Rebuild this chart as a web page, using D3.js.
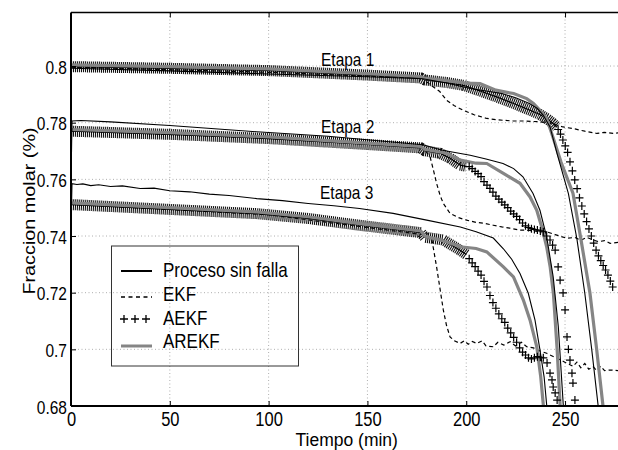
<!DOCTYPE html>
<html>
<head>
<meta charset="utf-8">
<script src="https://cdn.jsdelivr.net/npm/d3@7"></script>
<style>
  body { margin: 0; background: #fff; }
  text { font-family: "Liberation Sans", Arial, Helvetica, sans-serif; fill: #000; }
</style>
</head>
<body>
<div id="chart"></div>
<script>
// axis ticks
var xTicks = [0, 50, 100, 150, 200, 250];
var yTicks = [0.68, 0.7, 0.72, 0.74, 0.76, 0.78, 0.8];
var stageNames = ["Etapa 1", "Etapa 2", "Etapa 3"];
var legendNames = ["Proceso sin falla", "EKF", "AEKF", "AREKF"];

// Etapa 1 : [tiempo, fraccion molar]
var sinFalla1 = [[0,0.7995],[0.6,0.7992],[50,0.7983],[100,0.7972],[150,0.7962],[178,0.7955],[190,0.7940],[202,0.7921],[210,0.7912],[218,0.7903],[225,0.7888],[232,0.7868],[236,0.7850],[239,0.7826],[242.4,0.7785],[246,0.7690],[251.7,0.7550],[256,0.7390],[260,0.7198],[263.5,0.7000],[266.7,0.6804],[267.2,0.6750]];
var ekf1 = [[0,0.7996],[100,0.7978],[178,0.7957],[181,0.7938],[186.6,0.7910],[190.1,0.7879],[194,0.7860],[198.5,0.7844],[204,0.7828],[210.4,0.7815],[216,0.7810],[223.7,0.7806],[230,0.7806],[237.3,0.7803],[243,0.7797],[249,0.7785],[255,0.7778],[260,0.7770],[266.2,0.7762],[270,0.7766],[274.3,0.7762],[277,0.7764]];
var aekf1 = [[0,0.7998],[50,0.7992],[100,0.7984],[150,0.7968],[177,0.7958],[179,0.7951],[190,0.7942],[198.6,0.7932],[207,0.7912],[215.4,0.7891],[224,0.7868],[232.3,0.7844],[237,0.7830],[240.7,0.7815],[243.5,0.7800],[245.8,0.7785],
  [246.5,0.7776],[247.7,0.7760],[248.9,0.7739],[250.1,0.7718],[251.3,0.7695],[252.5,0.7662],[253.7,0.7630],[254.9,0.7598],[256.1,0.7567],[257.3,0.7535],[258.5,0.7506],[259.7,0.7478],[260.9,0.7451],[262.1,0.7425],[263.3,0.7400],[264.5,0.7375],[265.7,0.7350],[266.9,0.7330],[268.1,0.7313],[269.3,0.7296],[270.5,0.7280],[271.7,0.7262],[272.9,0.7241],[274.1,0.7220]];
var arekf1 = [[0,0.8004],[50,0.7998],[100,0.7990],[150,0.7973],[177,0.7963],[179,0.7957],[190,0.7948],[200,0.7940],[207,0.7938],[215,0.7915],[220,0.7908],[224,0.7903],[230.6,0.7885],[234,0.7868],[237.3,0.7844],[240.7,0.7815],[243.9,0.7749],[248,0.7660],[254,0.7551],[258,0.7390],[262.6,0.7199],[266,0.7000],[269.2,0.6800],[269.6,0.6750]];

// Etapa 2
var sinFalla2 = [[0,0.7585],[0.5,0.7806],[5,0.7808],[20,0.7803],[50,0.7790],[94,0.7768],[130,0.7752],[178,0.7722],[188,0.7703],[202,0.7685],[210,0.7672],[218.6,0.7656],[224,0.7638],[228.7,0.7609],[233.8,0.7550],[237.3,0.7491],[240.7,0.7397],[244,0.7256],[246.6,0.7080],[249.1,0.6804],[249.4,0.6750]];
var ekf2 = [[0,0.7772],[100,0.7745],[178,0.7712],[181.7,0.7680],[183.5,0.7630],[185,0.7586],[186.7,0.7545],[188.4,0.7515],[191.8,0.7480],[196,0.7465],[200.2,0.7456],[205,0.7448],[209,0.7445],[213.7,0.7438],[218,0.7432],[222,0.7428],[227.2,0.7421],[232,0.7420],[236,0.7416],[240.7,0.7415],[245,0.7405],[250.9,0.7392],[255,0.7395],[258,0.7385],[261,0.7395],[264.2,0.7386],[267,0.7380],[270,0.7384],[272.8,0.7374],[277,0.7378]];
var aekf2 = [[0,0.7770],[50,0.7759],[100,0.7744],[150,0.7723],[177,0.7711],[179,0.7701],[186.7,0.7692],[191.8,0.7675],[196.9,0.7650],[200,0.7646],
  [201.5,0.7645],[203,0.7638],[204.5,0.7628],[206,0.7620],[207.5,0.7610],[209,0.7592],[210.5,0.7580],[212,0.7568],[213.5,0.7555],[215,0.7541],[216.5,0.7530],[218,0.7520],[219.5,0.7510],[221,0.7500],[222.5,0.7488],[224,0.7478],[225.5,0.7469],[227,0.7458],[228.5,0.7446],[230,0.7436],[231.5,0.7430],[233,0.7426],[234.5,0.7423],[236,0.7421],[237.5,0.7418],[239,0.7415],
  [240.7,0.7400],[242.4,0.7386],[243.7,0.7368],[245,0.7350],[246.5,0.7291],[247.5,0.7244],[249,0.7199],[250,0.7139],[251,0.7044],[251.7,0.7000],[252.5,0.6962],[253.5,0.6916],[254,0.6881],[255,0.6821]];
var arekf2 = [[0,0.7776],[50,0.7765],[100,0.7750],[150,0.7728],[177,0.7716],[179,0.7706],[190,0.7692],[197,0.7668],[205,0.7657],[210.4,0.7656],[218.8,0.7621],[227.2,0.7586],[232.3,0.7538],[235.7,0.7491],[238.2,0.7432],[240.7,0.7362],[242.5,0.7290],[244.1,0.7198],[246,0.7000],[247.5,0.6804],[247.8,0.6750]];

// Etapa 3
var sinFalla3 = [[0,0.7425],[0.5,0.7585],[3,0.7582],[6,0.7584],[10,0.7578],[14,0.7581],[20,0.7575],[26,0.7577],[35,0.7568],[42,0.7569],[50,0.7560],[60,0.7556],[70,0.7548],[80,0.7543],[94,0.7532],[107,0.7525],[120,0.7515],[133,0.7507],[146,0.7497],[163,0.7480],[180,0.7456],[197,0.7432],[205,0.7415],[213.7,0.7393],[218.8,0.7355],[223,0.7318],[227.2,0.7268],[231.4,0.7198],[234.8,0.7103],[237.3,0.6998],[239.4,0.6903],[240.7,0.6804],[241,0.6750]];
var ekf3 = [[0,0.7512],[100,0.7475],[178,0.7405],[182.5,0.7392],[185,0.7291],[188.4,0.7139],[190,0.7085],[191.8,0.7044],[194,0.7030],[196.9,0.7021],[199,0.7030],[201,0.7018],[203,0.7028],[205.3,0.7021],[208,0.7030],[210,0.7012],[213.7,0.7009],[216,0.7025],[219,0.7015],[222.2,0.7027],[225,0.7012],[228,0.7025],[230.6,0.7009],[234,0.7005],[237,0.6995],[240.7,0.6986],[244,0.6975],[247,0.6965],[250.9,0.6951],[254,0.6940],[256,0.6955],[258,0.6935],[260,0.6950],[262,0.6930],[264.2,0.6939],[266,0.6925],[268,0.6940],[270,0.6925],[272.8,0.6927],[277,0.6925]];
var aekf3 = [[0,0.7511],[50,0.7494],[94,0.7479],[120,0.7462],[146,0.7438],[177,0.7412],[179,0.7396],[188.4,0.7386],[196.9,0.7350],[200,0.7335],
  [201.5,0.7320],[203,0.7305],[204.5,0.7292],[206,0.7276],[207.5,0.7262],[209,0.7240],[210.5,0.7220],[212,0.7190],[213.5,0.7165],[215,0.7145],[216.5,0.7125],[218,0.7108],[219.5,0.7095],[221,0.7075],[222.5,0.7058],[224,0.7042],[225.5,0.7025],[227,0.7005],[228.5,0.6990],[230,0.6980],[231.5,0.6970],[233,0.6966],[234.5,0.6970],[236,0.6974],[237.5,0.6972],[239,0.6970],
  [240.9,0.6952],[242.4,0.6916],[243.4,0.6892],[244,0.6867],[245,0.6846],[246,0.6821]];
var arekf3 = [[0,0.7517],[50,0.7500],[94,0.7485],[120,0.7468],[146,0.7444],[177,0.7418],[179,0.7400],[190,0.7380],[197,0.7362],[205,0.7356],[210.4,0.7344],[218.8,0.7291],[223.9,0.7256],[228.9,0.7174],[232.3,0.7103],[235.7,0.7009],[237.7,0.6903],[239,0.6804],[239.3,0.6750]];

var stages = [
  {name: stageNames[0], sin: sinFalla1, ekf: ekf1, aekf: aekf1, arekf: arekf1, dense: 246},
  {name: stageNames[1], sin: sinFalla2, ekf: ekf2, aekf: aekf2, arekf: arekf2, dense: 200},
  {name: stageNames[2], sin: sinFalla3, ekf: ekf3, aekf: aekf3, arekf: arekf3, dense: 200}
];

var width = 618, height = 450;
var plot = {left: 71, right: 618.4, top: 12.5, bottom: 406};
var grayCol = "#858585";

var svg = d3.select("#chart").append("svg")
    .attr("width", width)
    .attr("height", height);

var x = d3.scaleLinear().domain([0, 277]).range([plot.left, plot.right]);
var y = d3.scaleLinear().domain([0.68, 0.8189]).range([plot.bottom, plot.top]);

// the figure was stretched vertically, so the text is too
function stretch(sel) { return sel.attr("transform", function() {
  var t = d3.select(this).attr("data-t") || ""; return t + " scale(1,1.2)"; }); }

// grid
svg.append("g").selectAll("line").data(xTicks.slice(1)).join("line")
    .attr("x1", d => x(d)).attr("x2", d => x(d))
    .attr("y1", plot.top).attr("y2", plot.bottom)
    .attr("stroke", "#9a9a9a").attr("stroke-width", 0.8).attr("stroke-dasharray", "1,2.5");
svg.append("g").selectAll("line").data(yTicks.slice(1)).join("line")
    .attr("x1", plot.left).attr("x2", plot.right)
    .attr("y1", d => y(d)).attr("y2", d => y(d))
    .attr("stroke", "#9a9a9a").attr("stroke-width", 0.8).attr("stroke-dasharray", "1,2.5");

svg.append("clipPath").attr("id", "clip")
  .append("rect").attr("x", plot.left).attr("y", plot.top)
    .attr("width", plot.right - plot.left).attr("height", plot.bottom - plot.top);

var line = d3.line().x(d => x(d[0])).y(d => y(d[1]));
var g = svg.append("g").attr("clip-path", "url(#clip)");
var cross = "M-4,0H4M0,-4V4";

// EKF (dashed) first, hidden below the band before the fault
g.selectAll(".ekf").data(stages).join("path")
    .attr("class", "ekf")
    .attr("d", d => line(d.ekf))
    .attr("fill", "none").attr("stroke", "#000").attr("stroke-width", 1.2)
    .attr("stroke-dasharray", "4,3");

// AEKF dense part: packed + markers look like a hatched band
g.selectAll(".hatch").data(stages).join("path")
    .attr("class", "hatch")
    .attr("d", d => line(d.aekf.filter(p => p[0] <= d.dense)))
    .attr("fill", "none").attr("stroke", "#111").attr("stroke-width", 11)
    .attr("stroke-dasharray", "1.1,0.9");
g.selectAll(".hatchline").data(stages).join("path")
    .attr("class", "hatchline")
    .attr("d", d => line(d.aekf.filter(p => p[0] <= d.dense)))
    .attr("fill", "none").attr("stroke", "#000").attr("stroke-width", 1.2);

// AREKF gray
g.selectAll(".arekf").data(stages).join("path")
    .attr("class", "arekf")
    .attr("d", d => line(d.arekf))
    .attr("fill", "none").attr("stroke", grayCol).attr("stroke-width", 3.2);

// AEKF markers
stages.forEach(function(s) {
  g.append("g").selectAll("path")
    .data(s.aekf.filter(p => p[0] > s.dense))
    .join("path")
      .attr("d", cross)
      .attr("transform", d => "translate(" + x(d[0]) + "," + y(d[1]) + ")")
      .attr("fill", "none").attr("stroke", "#000").attr("stroke-width", 1.2);
});

// Proceso sin falla
g.selectAll(".sin").data(stages).join("path")
    .attr("class", "sin")
    .attr("d", d => line(d.sin))
    .attr("fill", "none").attr("stroke", "#000").attr("stroke-width", 1.1);

// stage labels (baseline value, left x)
var labelPos = [[0.8000, 321], [0.7763, 321], [0.7530, 320]];
svg.append("g").selectAll("text").data(stages).join("text")
    .attr("data-t", (d, i) => "translate(" + labelPos[i][1] + "," + y(labelPos[i][0]) + ")")
    .style("font-size", "15.5px")
    .text(d => d.name)
    .call(stretch);

// axes box
svg.append("line").attr("x1", plot.left).attr("x2", width).attr("y1", plot.top).attr("y2", plot.top)
    .attr("stroke", "#000").attr("stroke-width", 1.5);

var xAxis = svg.append("g").attr("transform", "translate(0," + plot.bottom + ")")
    .call(d3.axisBottom(x).tickValues(xTicks).tickSize(-5).tickFormat(d3.format("d")));
xAxis.select(".domain").attr("stroke-width", 2.2).attr("d", "M" + plot.left + ",0H" + width);
xAxis.selectAll(".tick line").attr("stroke-width", 1);
xAxis.selectAll(".tick text")
    .attr("y", null).attr("dy", null)
    .attr("data-t", "translate(0,19.5)")
    .style("font-size", "16.5px")
    .call(stretch);

var topAxis = svg.append("g").attr("transform", "translate(0," + plot.top + ")")
    .call(d3.axisTop(x).tickValues(xTicks.slice(1)).tickSize(-5).tickFormat(""));
topAxis.select(".domain").remove();

var yAxis = svg.append("g").attr("transform", "translate(" + plot.left + ",0)")
    .call(d3.axisLeft(y).tickValues(yTicks).tickSize(-5).tickFormat(d => d3.format("")(+d.toFixed(2))));
yAxis.select(".domain").attr("stroke-width", 2).attr("d", "M0," + plot.top + "V" + plot.bottom);
yAxis.selectAll(".tick text")
    .attr("x", null).attr("dy", null)
    .attr("data-t", "translate(-4,7)")
    .style("font-size", "15.5px")
    .call(stretch);
svg.selectAll(".tick text").attr("font-family", null).attr("font-size", null);

// axis titles
svg.append("text")
    .attr("x", (plot.left + plot.right) / 2 + 2).attr("y", 446)
    .attr("text-anchor", "middle")
    .style("font-size", "17.5px")
    .text("Tiempo (min)");
svg.append("text")
    .attr("transform", "translate(35,211) rotate(-90) scale(1.2,1)")
    .attr("text-anchor", "middle")
    .style("font-size", "16.5px")
    .text("Fraccion molar (%)");

// legend
var legend = svg.append("g");
legend.append("rect")
    .attr("x", 111.5).attr("y", 246).attr("width", 187).attr("height", 120)
    .attr("fill", "none").attr("stroke", "#333").attr("stroke-width", 1);
var rowY = [270, 294, 318, 341];
legend.selectAll("text").data(legendNames).join("text")
    .attr("data-t", (d, i) => "translate(163," + (rowY[i] + 6.5) + ")")
    .style("font-size", "17px")
    .text(d => d)
    .call(stretch);
legend.append("line").attr("x1", 121).attr("x2", 152).attr("y1", rowY[0] + 1).attr("y2", rowY[0] + 1)
    .attr("stroke", "#000").attr("stroke-width", 2);
legend.append("line").attr("x1", 121).attr("x2", 152).attr("y1", rowY[1] + 3).attr("y2", rowY[1] + 3)
    .attr("stroke", "#000").attr("stroke-width", 1.6).attr("stroke-dasharray", "4,3.5");
legend.append("g").selectAll("path").data([124, 135, 146]).join("path")
    .attr("d", cross)
    .attr("transform", d => "translate(" + d + "," + (rowY[2] + 1) + ")")
    .attr("fill", "none").attr("stroke", "#000").attr("stroke-width", 1.3);
legend.append("line").attr("x1", 121).attr("x2", 152).attr("y1", rowY[3] + 5).attr("y2", rowY[3] + 5)
    .attr("stroke", grayCol).attr("stroke-width", 3);
</script>
</body>
</html>
